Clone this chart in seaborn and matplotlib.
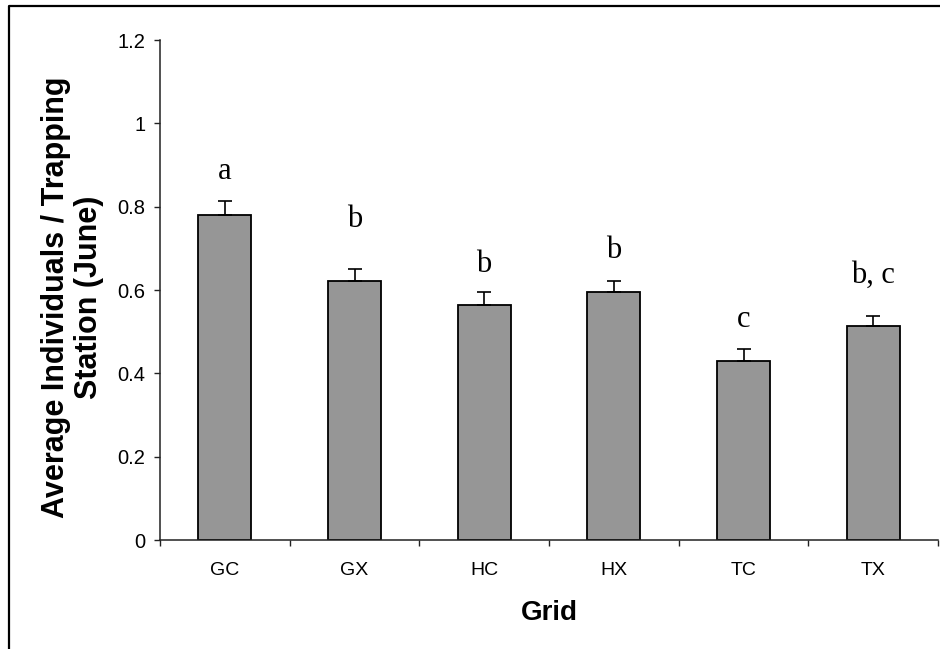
import numpy as np
import pandas as pd
import matplotlib
matplotlib.use('Agg')
import matplotlib.pyplot as plt
from matplotlib.lines import Line2D
from matplotlib.ticker import FixedLocator
import seaborn as sns

# --- data ---
grids = ['GC', 'GX', 'HC', 'HX', 'TC', 'TX']
means = [0.78, 0.621, 0.565, 0.595, 0.43, 0.514]
errors = [0.033, 0.030, 0.031, 0.027, 0.029, 0.023]
letters = ['a', 'b', 'b', 'b', 'c', 'b, c']
letter_base = [0.866, 0.751, 0.643, 0.677, 0.511, 0.617]  # baseline height of each letter

df = pd.DataFrame({'Grid': grids, 'Mean': means, 'SE': errors})

sns.set_style('white')
plt.rcParams['font.family'] = ['Liberation Sans', 'DejaVu Sans']
plt.rcParams['text.color'] = 'black'
plt.rcParams['axes.labelcolor'] = 'black'
plt.rcParams['xtick.color'] = 'black'
plt.rcParams['ytick.color'] = 'black'

fig = plt.figure(figsize=(9.4, 6.49), dpi=100)
ax = fig.add_axes([160 / 940, 1 - 540 / 649, 778 / 940, 500 / 649])

sns.barplot(data=df, x='Grid', y='Mean', color='#969696', edgecolor='black',
            linewidth=1.3, width=0.41, saturation=1, errorbar=None, ax=ax)
ax.errorbar(np.arange(len(grids)), df['Mean'],
            yerr=[np.zeros(len(grids)), df['SE']], fmt='none',
            ecolor='black', elinewidth=1.2, capsize=5, capthick=1.2)

for i, (lab, yy) in enumerate(zip(letters, letter_base)):
    ax.text(i, yy, lab, ha='center', va='baseline', fontsize=22, color='black',
            family=['Liberation Serif', 'DejaVu Serif'])

ax.set_xlim(-0.5, len(grids) - 0.5)
ax.set_ylim(0, 1.2)
ax.set_yticks([0, 0.2, 0.4, 0.6, 0.8, 1.0, 1.2])
ax.set_yticklabels(['0', '0.2', '0.4', '0.6', '0.8', '1', '1.2'])

for side in ['top', 'right']:
    ax.spines[side].set_visible(False)
for side in ['left', 'bottom']:
    ax.spines[side].set_color('#222222')
    ax.spines[side].set_linewidth(1.1)

ax.tick_params(axis='y', direction='out', length=4.5, width=1, color='#222222',
               labelsize=14.5, pad=6, left=True)
ax.xaxis.set_minor_locator(FixedLocator(np.arange(-0.5, len(grids), 1.0)))
ax.tick_params(axis='x', which='major', length=0, labelsize=14, pad=16)
ax.tick_params(axis='x', which='minor', direction='out', length=4.5, width=1,
               color='#222222', bottom=True)

ax.set_xlabel('Grid', fontsize=20, fontweight='bold', labelpad=15)
ax.set_ylabel('Average Individuals / Trapping\nStation (June)', fontsize=22,
              fontweight='bold', labelpad=10, linespacing=1.1)
ax.yaxis.label.set_y(0.485)

# outer frame around the chart (only left and top visible in the crop)
fy = 1 - 6 / 649
fx = 9 / 940
fig.add_artist(Line2D([fx, fx, 1.0], [0.0, fy, fy], transform=fig.transFigure,
                      color='black', linewidth=1.6))

fig.savefig('out.png', dpi=100)
